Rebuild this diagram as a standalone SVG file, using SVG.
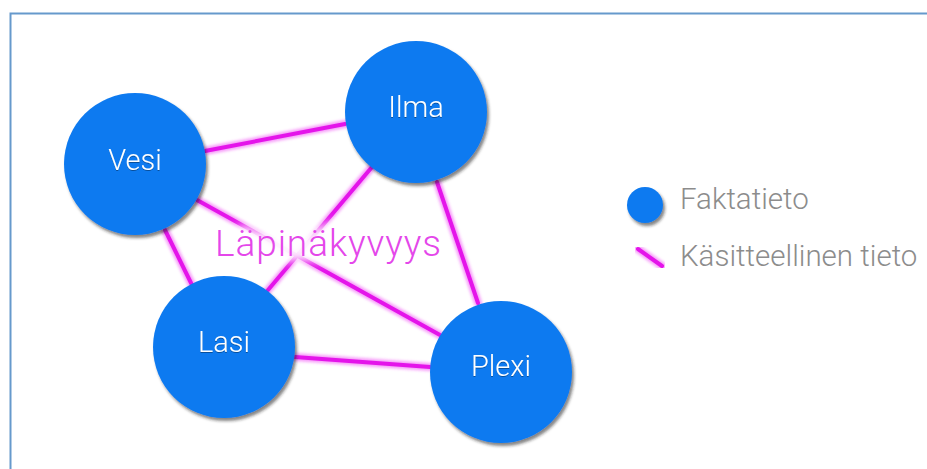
<svg xmlns="http://www.w3.org/2000/svg" width="927" height="469" viewBox="0 0 927 469">
<defs>
<filter id="shadow" x="-20%" y="-20%" width="140%" height="140%">
<feDropShadow dx="2" dy="3" stdDeviation="1.5" flood-color="#222" flood-opacity="0.55"/>
</filter>
<filter id="tshadow" x="-10%" y="-20%" width="120%" height="140%">
<feDropShadow dx="0" dy="1" stdDeviation="0.6" flood-color="#000" flood-opacity="0.35"/>
</filter>
<filter id="glow" x="-10%" y="-10%" width="120%" height="120%">
<feGaussianBlur stdDeviation="1.6"/>
</filter>
<filter id="halo" x="-10%" y="-30%" width="120%" height="160%">
<feGaussianBlur stdDeviation="5"/>
</filter>
</defs>
<style>
.node circle{fill:#0e7af0;filter:url(#shadow)}
.node text{fill:#fff;font-family:Roboto,"Liberation Sans",sans-serif;font-weight:300;font-size:29px;text-anchor:middle;filter:url(#tshadow)}
.glow{stroke:#f04af5;stroke-width:8;stroke-linecap:round;opacity:0.55;filter:url(#glow)}
.core{stroke:#e414ea;stroke-width:4;stroke-linecap:round}
.legend{fill:#8c8c8c;font-family:Roboto,"Liberation Sans",sans-serif;font-weight:300;font-size:29.5px}
</style>
<rect x="0" y="0" width="927" height="469" fill="#fff"/>
<path d="M10.5 469 V13.5 H927" fill="none" stroke="#6699cc" stroke-width="2"/>
<g id="connectors">
<g class="glow">
<line x1="205" y1="151" x2="345" y2="124"/>
<line x1="197" y1="200" x2="440" y2="335"/>
<line x1="165" y1="230" x2="193" y2="287"/>
<line x1="372" y1="167" x2="268" y2="290"/>
<line x1="437" y1="182" x2="478" y2="303"/>
<line x1="295" y1="357" x2="430" y2="367"/>
</g>
<g class="core">
<line x1="205" y1="151" x2="345" y2="124"/>
<line x1="197" y1="200" x2="440" y2="335"/>
<line x1="165" y1="230" x2="193" y2="287"/>
<line x1="372" y1="167" x2="268" y2="290"/>
<line x1="437" y1="182" x2="478" y2="303"/>
<line x1="295" y1="357" x2="430" y2="367"/>
</g>
</g>
<g id="label">
<text x="328" y="256" text-anchor="middle" font-family="Roboto,'Liberation Sans',sans-serif" font-weight="300" font-size="37" textLength="226" fill="#fff" stroke="#fff" stroke-width="10" filter="url(#halo)" opacity="0.95">Läpinäkyvyys</text>
<text x="328" y="256" text-anchor="middle" font-family="Roboto,'Liberation Sans',sans-serif" font-weight="300" font-size="37" textLength="226" fill="#e447ea">Läpinäkyvyys</text>
</g>
<g id="vesi" class="node"><circle cx="135" cy="164" r="71"/><text x="135" y="170">Vesi</text></g>
<g id="ilma" class="node"><circle cx="416" cy="112" r="71"/><text x="416" y="117">Ilma</text></g>
<g id="lasi" class="node"><circle cx="224" cy="347" r="71"/><text x="224" y="352">Lasi</text></g>
<g id="plexi" class="node"><circle cx="501" cy="372" r="71"/><text x="501" y="376">Plexi</text></g>
<g id="legend">
<circle cx="645" cy="205" r="18" fill="#0e7af0" filter="url(#shadow)"/>
<text class="legend" x="680" y="209">Faktatieto</text>
<line x1="638" y1="249" x2="662" y2="266" class="glow"/>
<line x1="638" y1="249" x2="662" y2="266" class="core"/>
<text class="legend" x="680" y="266">Käsitteellinen tieto</text>
</g>
</svg>
